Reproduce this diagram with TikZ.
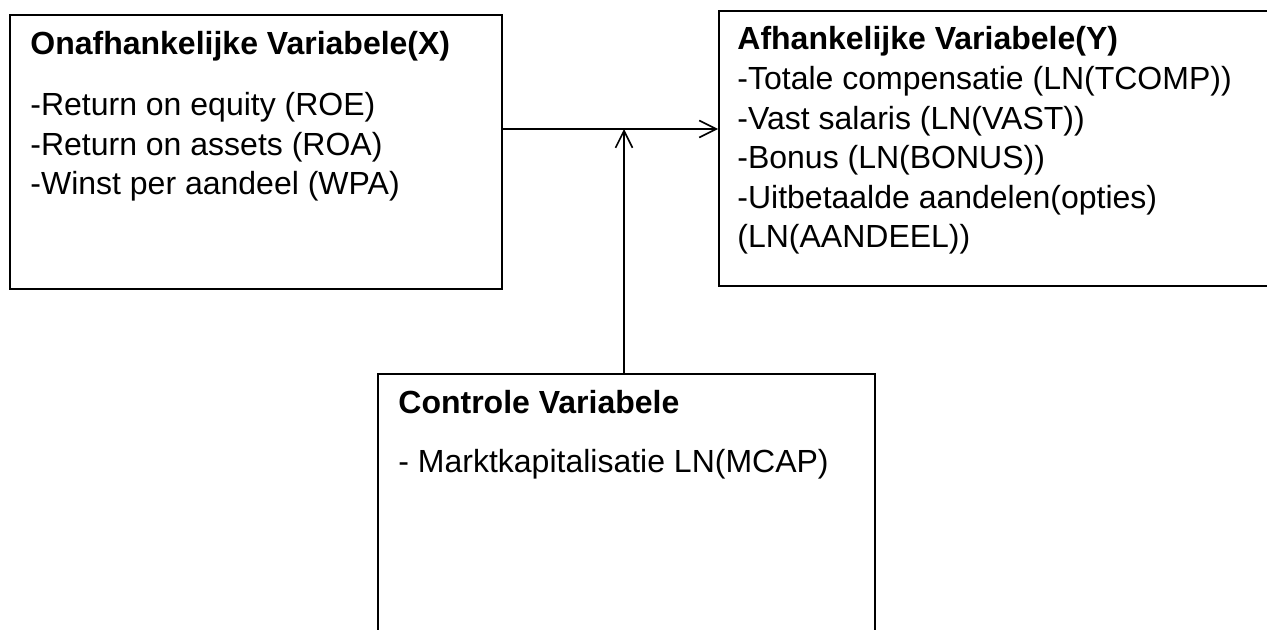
\documentclass[tikz,border=0pt]{standalone}
\usepackage{fontspec}
\setmainfont{Liberation Sans}
\usetikzlibrary{arrows.meta}

\begin{document}
\begin{tikzpicture}[x=0.5pt, y=-0.5pt,
  box/.style={draw, line width=0.8pt, anchor=north west, inner sep=0pt},
  head/.style={anchor=base west, inner sep=0pt, font=\fontsize{16}{19.75}\selectfont\bfseries},
  items/.style={anchor=base west, inner sep=0pt, font=\fontsize{16}{19.75}\selectfont},
  link/.style={line width=0.8pt, -{Straight Barb[length=8.5pt, width=8.5pt]}}]
  % Fix the page size
  \useasboundingbox (0,0) rectangle (1267,630);

  % Draw the three boxes
  \node[box, minimum width=246pt, minimum height=137pt] (indep) at (9,14) {};
  \node[box, minimum width=290pt, minimum height=137.5pt] (dep) at (718,10) {};
  \node[box, minimum width=248.5pt, minimum height=140pt] (ctrl) at (377,373) {};

  % Texts in the boxes
  \node[head] (indephead) at (30,55) {Onafhankelijke Variabele(X)};
  \node[items] (indepitems) at (30,116) {\begin{tabular}[t]{@{}l@{}}
    -Return on equity (ROE)\\
    -Return on assets (ROA)\\
    -Winst per aandeel (WPA)\end{tabular}};

  \node[head] (dephead) at (737,50) {Afhankelijke Variabele(Y)};
  \node[items] (depitems) at (737,90) {\begin{tabular}[t]{@{}l@{}}
    -Totale compensatie (LN(TCOMP))\\
    -Vast salaris (LN(VAST))\\
    -Bonus (LN(BONUS))\\
    -Uitbetaalde aandelen(opties)\\
    (LN(AANDEEL))\end{tabular}};

  \node[head] (ctrlhead) at (398,413) {Controle Variabele};
  \node[items] (ctrlitems) at (398,472) {- Marktkapitalisatie LN(MCAP)};

  % Arrows
  \coordinate (meet) at (624,129);
  \draw[link] (indep.east |- meet) -- (dep.west |- meet);
  \draw[link] (meet |- ctrl.north) -- (meet);
\end{tikzpicture}
\end{document}
